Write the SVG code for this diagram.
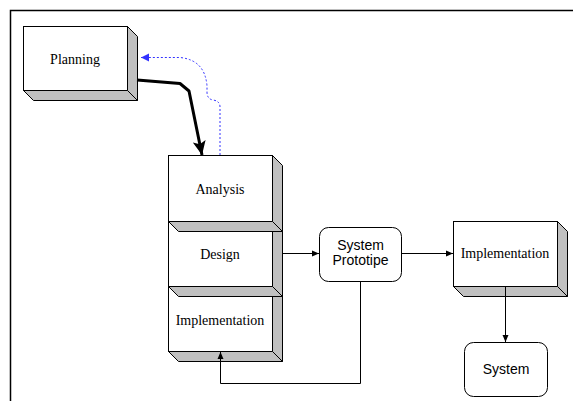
<svg xmlns="http://www.w3.org/2000/svg" width="573" height="401" viewBox="0 0 573 401">
<style>
.front{fill:#fff;stroke:#000;stroke-width:1}
.side{fill:#c0c0c0;stroke:#000;stroke-width:1;stroke-linejoin:round}
.serif{font-family:"Liberation Serif","Times New Roman",serif;font-size:14px;fill:#000;text-anchor:middle}
.sans{font-family:"Liberation Sans",Arial,sans-serif;font-size:14px;fill:#000;text-anchor:middle}
.round{fill:#fff;stroke:#000;stroke-width:1}
.conn{fill:none;stroke:#000;stroke-width:1}
</style>
<defs>
<marker id="arr" markerWidth="8" markerHeight="8" refX="7" refY="4" orient="auto" markerUnits="userSpaceOnUse">
<path d="M0,1 L7,4 L0,7 Z" fill="#000"/>
</marker>
<marker id="big" markerWidth="16" markerHeight="16" refX="14" refY="8" orient="auto" markerUnits="userSpaceOnUse">
<path d="M0,1.5 L14,8 L0,14.5 L3,8 Z" fill="#000"/>
</marker>
<marker id="blue" markerWidth="10" markerHeight="10" refX="8" refY="5" orient="auto" markerUnits="userSpaceOnUse">
<path d="M0,1 L8,5 L0,9 Z" fill="#0000ff"/>
</marker>
</defs>
<rect width="573" height="401" fill="#fff"/>
<path d="M10.5,401 V10.5 H573" fill="none" stroke="#000" stroke-width="1.5"/>

<g id="planning">
<rect class="front" x="23.5" y="26.5" width="104" height="64"/>
<path class="side" d="M127.5,26.5 L137.5,36.5 L137.5,100.5 L127.5,90.5 Z"/>
<path class="side" d="M23.5,90.5 L127.5,90.5 L137.5,100.5 L33.5,100.5 Z"/>
<text class="serif" x="75" y="64">Planning</text>
</g>

<g id="implementation-stack">
<rect class="front" x="168.5" y="286.5" width="104" height="65"/>
<path class="side" d="M272.5,286.5 L282.5,296.5 L282.5,361.5 L272.5,351.5 Z"/>
<path class="side" d="M168.5,351.5 L272.5,351.5 L282.5,361.5 L178.5,361.5 Z"/>
<text class="serif" x="220" y="325">Implementation</text>
</g>

<g id="design">
<rect class="front" x="168.5" y="221.5" width="104" height="65"/>
<path class="side" d="M272.5,221.5 L282.5,231.5 L282.5,296.5 L272.5,286.5 Z"/>
<path class="side" d="M168.5,286.5 L272.5,286.5 L282.5,296.5 L178.5,296.5 Z"/>
<text class="serif" x="220" y="259">Design</text>
</g>

<g id="analysis">
<rect class="front" x="168.5" y="155.5" width="104" height="66"/>
<path class="side" d="M272.5,155.5 L282.5,165.5 L282.5,231.5 L272.5,221.5 Z"/>
<path class="side" d="M168.5,221.5 L272.5,221.5 L282.5,231.5 L178.5,231.5 Z"/>
<text class="serif" x="220" y="194">Analysis</text>
</g>

<g id="prototype">
<rect class="round" x="319.5" y="227.5" width="82" height="54" rx="9"/>
<text class="sans" x="360.5" y="250">System</text>
<text class="sans" x="360.5" y="265">Prototipe</text>
</g>

<g id="implementation">
<rect class="front" x="453.5" y="221.5" width="104" height="65"/>
<path class="side" d="M557.5,221.5 L567.5,231.5 L567.5,296.5 L557.5,286.5 Z"/>
<path class="side" d="M453.5,286.5 L557.5,286.5 L567.5,296.5 L463.5,296.5 Z"/>
<text class="serif" x="505" y="258">Implementation</text>
</g>

<g id="system">
<rect class="round" x="464.5" y="342.5" width="83" height="54" rx="9"/>
<text class="sans" x="506" y="374">System</text>
</g>

<g id="connectors">
<path d="M137,80 L180,83.5 L189,91 L202,155" fill="none" stroke="#000" stroke-width="3" stroke-linejoin="round" marker-end="url(#big)"/>
<path d="M220,155 V107 Q220,101 213,100 Q207,99 207,92 V86 Q205,60 180,57.5 H141" fill="none" stroke="#0000ff" stroke-width="1" stroke-dasharray="2,2" opacity="0.8" marker-end="url(#blue)"/>
<path class="conn" d="M282,253.5 H319" marker-end="url(#arr)"/>
<path class="conn" d="M401,253.5 H453" marker-end="url(#arr)"/>
<path class="conn" d="M360.5,282 V383.5 H220.5 V352" marker-end="url(#arr)"/>
<path class="conn" d="M505.5,287 V342" marker-end="url(#arr)"/>
</g>
</svg>
